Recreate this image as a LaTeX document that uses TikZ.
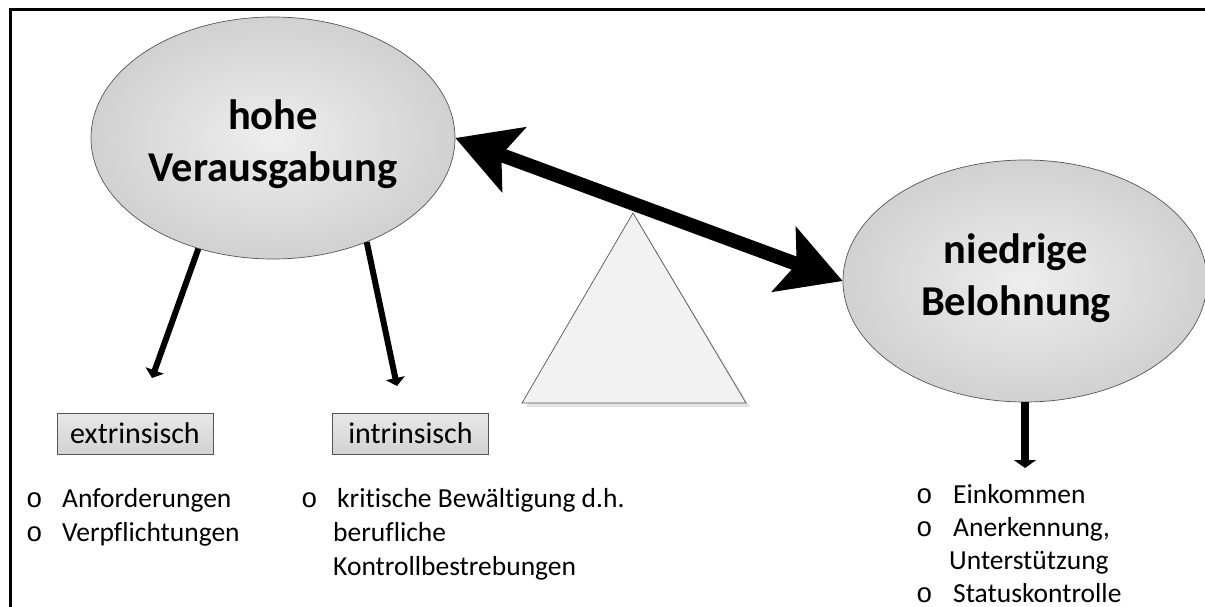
\documentclass[tikz,border=0pt]{standalone}
\usepackage{fontspec}
\setmainfont{Carlito}[Ligatures=NoCommon]
\newfontfamily\bulletfont{Liberation Mono}
\usetikzlibrary{arrows.meta,shapes.geometric}

\definecolor{glowin}{HTML}{EEEEEE}
\definecolor{glowout}{HTML}{B4B4B4}
\definecolor{boxtop}{HTML}{E8E8E8}
\definecolor{boxbot}{HTML}{D2D2D2}
\definecolor{scalefill}{HTML}{F2F2F2}
\definecolor{scaleshade}{HTML}{E2E2E2}
\definecolor{rim}{HTML}{555555}

\pgfdeclareradialshading{softglow}{\pgfpointorigin}{%
  color(0bp)=(glowin); color(50bp)=(glowout); color(72bp)=(glowout)}

\newcommand{\bul}{\bulletfont o}

\begin{document}
\begin{tikzpicture}[x=1pt,y=-1pt,
  bubble/.style={ellipse, draw=rim, line width=0.7pt, inner sep=0pt,
    shading=softglow, minimum width=364pt, minimum height=242pt},
  bubbletext/.style={inner sep=0pt, align=center,
    font=\fontsize{42.5}{52}\selectfont\bfseries},
  tagbox/.style={rectangle, draw=rim, line width=0.8pt, inner sep=0pt,
    top color=boxtop, bottom color=boxbot, minimum width=156pt,
    minimum height=41pt, font=\fontsize{30}{36}\selectfont},
  itemlist/.style={inner sep=0pt, anchor=base west},
  balance/.style={line width=14pt,
    {Stealth[length=62pt,width=68pt,inset=13pt]}-{Stealth[length=62pt,width=68pt,inset=13pt]}},
  branch/.style={line width=6pt, -{Triangle[length=8pt,width=19pt]}},
]
\useasboundingbox (0,0) rectangle (1205,607);

% outer frame (left and top edges)
\draw[line width=3pt, line join=miter] (10,607) -- (10,10) -- (1208,10);

% fulcrum of the balance with its soft shadow
\fill[scaleshade] (636,217) -- (750,407) -- (526,407) -- cycle;
\draw[fill=scalefill, draw=rim, line width=0.7pt] (633,213) -- (746,403) -- (522,403) -- cycle;

% the two sides of the balance
\node[bubble] (hv) at (273,138) {};
\node[bubbletext] (hvt) at ([yshift=-6pt]hv.center) {hohe\\Verausgabung};
\node[bubble] (nb) at (1025,281) {};
\node[bubbletext] (nbt) at ([xshift=-9pt,yshift=3pt]nb.center) {niedrige\\Belohnung};

\draw[balance] (hv.east) -- (nb.west);

% effort side
\coordinate (ext) at (152,378);
\coordinate (int) at (397,386);
\draw[branch] (hv.-124.6) -- (ext);
\draw[branch] (hv.-48.2) -- (int);

\node[tagbox] (bext) at (135,433.5) {extrinsisch};
\node[tagbox] (bint) at (410.5,433.5) {intrinsisch};

\node[itemlist] (lext) at (26,507) {\fontsize{27.5}{34}\selectfont
  \begin{tabular}[t]{@{}p{36pt}@{}l@{}}
  \bul & Anforderungen\\
  \bul & Verpflichtungen
  \end{tabular}};

\node[itemlist] (lint) at (301,507) {\fontsize{27.5}{34}\selectfont
  \begin{tabular}[t]{@{}p{36pt}@{}l@{}}
  \bul & kritische Bewältigung d.h.\\
       & \hspace*{-4pt}berufliche\\
       & \hspace*{-4pt}Kontrollbestrebungen
  \end{tabular}};

% reward side
\coordinate (rew) at (1025,468);
\draw[line width=8pt, -{Triangle[length=8pt,width=22pt]}] (nb.south) -- (rew);

\node[itemlist] (lrew) at (916,503) {\fontsize{27.5}{33}\selectfont
  \begin{tabular}[t]{@{}p{37pt}@{}l@{}}
  \bul & Einkommen\\
  \bul & Anerkennung,\\
       & \hspace*{-4pt}Unterstützung\\
  \bul & Statuskontrolle
  \end{tabular}};
\end{tikzpicture}
\end{document}
